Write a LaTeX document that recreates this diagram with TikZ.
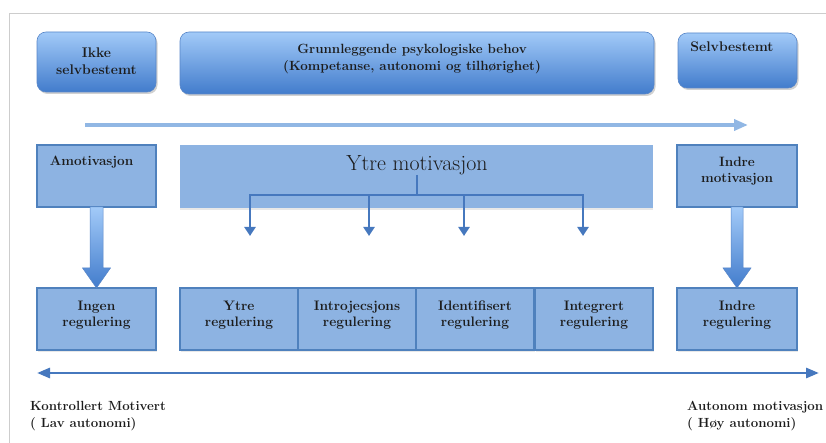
\documentclass[tikz,border=0pt]{standalone}
\usetikzlibrary{arrows.meta,calc,shadows}

\definecolor{framegray}{RGB}{205,205,205}
\definecolor{gradtop}{RGB}{162,202,248}
\definecolor{gradbot}{RGB}{66,124,204}
\definecolor{gradedge}{RGB}{88,134,200}
\definecolor{boxfill}{RGB}{141,179,226}
\definecolor{boxedge}{RGB}{79,129,189}
\definecolor{linkblue}{RGB}{70,120,190}
\definecolor{paleblue}{RGB}{145,183,228}
\definecolor{ink}{RGB}{28,28,28}

\begin{document}
\begin{tikzpicture}[x=1bp,y=-1bp,
  headbox/.style={draw=gradedge, line width=0.6bp, rounded corners=9bp,
    top color=gradtop, bottom color=gradbot, inner sep=0pt, outer sep=0pt,
    anchor=north west,
    drop shadow={shadow xshift=1.5bp, shadow yshift=-2bp, opacity=0.3, fill=black!60}},
  flatbox/.style={draw=boxedge, line width=1.5bp, fill=boxfill, inner sep=0pt,
    outer sep=0pt, anchor=north west,
    drop shadow={shadow xshift=1bp, shadow yshift=-1.5bp, opacity=0.15, fill=black!60}},
  band/.style={fill=boxfill, inner sep=0pt, outer sep=0pt, anchor=north west,
    drop shadow={shadow xshift=0bp, shadow yshift=-2bp, opacity=0.15, fill=black!60}},
  lbl/.style={text=ink, align=center, inner sep=0pt,
    font=\bfseries\fontsize{14}{17}\selectfont},
  smalllbl/.style={lbl, font=\bfseries\fontsize{13.6}{16}\selectfont},
  reglbl/.style={lbl, font=\bfseries\fontsize{13.8}{16}\selectfont},
  sidelbl/.style={text=ink, align=left, inner sep=0pt, anchor=west,
    font=\bfseries\fontsize{13.3}{17.5}\selectfont},
  bigarrow/.style={top color=gradtop, bottom color=gradbot, draw=gradedge, line width=0.5bp},
  link/.style={draw=linkblue, line width=2.8bp},
  linkarrow/.style={link, -{Triangle[width=11bp,length=9bp]}}
]
\useasboundingbox (0,0) rectangle (826,443);

% outer frame (top and left edges)
\draw[framegray, line width=0.8bp] (9,443) -- (9,13) -- (826,13);

% top row: rounded, shaded boxes
\node[headbox, minimum width=119bp, minimum height=60bp] (ikke) at (37,32) {};
\node[headbox, minimum width=474bp, minimum height=62bp] (grunn) at (180,32) {};
\node[headbox, minimum width=119bp, minimum height=55bp] (selv) at (678,33) {};
\node[lbl] (ikketxt) at (96.5,61) {Ikke\\selvbestemt};
\node[lbl, font=\bfseries\fontsize{13.4}{17.5}\selectfont] (grunntxt) at (412,59)
  {Grunnleggende psykologiske behov\\(Kompetanse, autonomi og tilhørighet)};
\node[lbl] (selvtxt) at (732,47) {Selvbestemt};

% direction arrow under the top row
\coordinate (ta0) at (85,125);
\coordinate (ta1) at (748,125);
\draw[paleblue, line width=3.5bp, -{Triangle[width=11bp,length=14bp]}] (ta0) -- (ta1);

% middle row
\node[flatbox, minimum width=119bp, minimum height=62bp] (amot) at (37,145) {};
\node[band, minimum width=473bp, minimum height=63bp] (ytreband) at (180,145) {};
\node[flatbox, minimum width=120bp, minimum height=62bp] (indremot) at (677,145) {};
\node[smalllbl] (amottxt) at (91.5,162) {Amotivasjon};
\node[smalllbl] (indremottxt) at (737,171) {Indre\\motivasjon};
\node[text=ink, inner sep=0pt, font=\fontsize{22}{24}\selectfont] (ytretxt) at (417,165) {Ytre motivasjon};

% bottom row
\node[flatbox, minimum width=119bp, minimum height=62bp] (ingen) at (37,288) {};
\node[flatbox, minimum width=118bp, minimum height=62bp] (ytrereg) at (180,288) {};
\node[flatbox, minimum width=118bp, minimum height=62bp] (introj) at (298,288) {};
\node[flatbox, minimum width=118bp, minimum height=62bp] (ident) at (416,288) {};
\node[flatbox, minimum width=118bp, minimum height=62bp] (integ) at (535,288) {};
\node[flatbox, minimum width=120bp, minimum height=62bp] (indrereg) at (677,288) {};
\node[reglbl] (ingentxt) at (96.5,315) {Ingen\\regulering};
\node[reglbl] (ytreregtxt) at (239,315) {Ytre\\regulering};
\node[reglbl] (introjtxt) at (357,315) {Introjecsjons\\regulering};
\node[reglbl] (identtxt) at (475,315) {Identifisert\\regulering};
\node[reglbl] (integtxt) at (594,315) {Integrert\\regulering};
\node[reglbl] (indreregtxt) at (737,315) {Indre\\regulering};

% wide shaded arrows from motivation to regulation
\path[bigarrow] ($(amot.south)+(-6.5,0)$) -- ($(amot.south)+(6.5,0)$)
  -- ($(ingen.north)+(6.5,-20)$) -- ($(ingen.north)+(14,-20)$) -- (ingen.north)
  -- ($(ingen.north)+(-14,-20)$) -- ($(ingen.north)+(-6.5,-20)$) -- cycle;
\path[bigarrow] ($(indremot.south)+(-6,0)$) -- ($(indremot.south)+(6,0)$)
  -- ($(indrereg.north)+(6,-20)$) -- ($(indrereg.north)+(14,-20)$) -- (indrereg.north)
  -- ($(indrereg.north)+(-14,-20)$) -- ($(indrereg.north)+(-6,-20)$) -- cycle;

% branching connector from the extrinsic band
\coordinate (hub) at (416,195);
\coordinate (j2) at (369,195);
\coordinate (j3) at (464,195);
\coordinate (d1) at (250,236);
\coordinate (d2) at (369,236);
\coordinate (d3) at (464,236);
\coordinate (d4) at (583,236);
\draw[link] (ytretxt.south) -- (ytretxt.south |- hub);
\draw[linkarrow] (hub) -| (d1);
\draw[linkarrow] (hub) -| (d4);
\draw[linkarrow] (j2) -- (d2);
\draw[linkarrow] (j3) -- (d3);

% autonomy scale
\coordinate (ba0) at (37,373);
\coordinate (ba1) at (819,373);
\draw[linkblue, line width=2.8bp,
  {Triangle[width=10bp,length=13bp]}-{Triangle[width=10bp,length=13bp]}] (ba0) -- (ba1);
\node[sidelbl] (lowtxt) at (30,416) {Kontrollert Motivert\\( Lav autonomi)};
\node[sidelbl] (hightxt) at (687,416) {Autonom motivasjon\\( Høy autonomi)};
\end{tikzpicture}
\end{document}
